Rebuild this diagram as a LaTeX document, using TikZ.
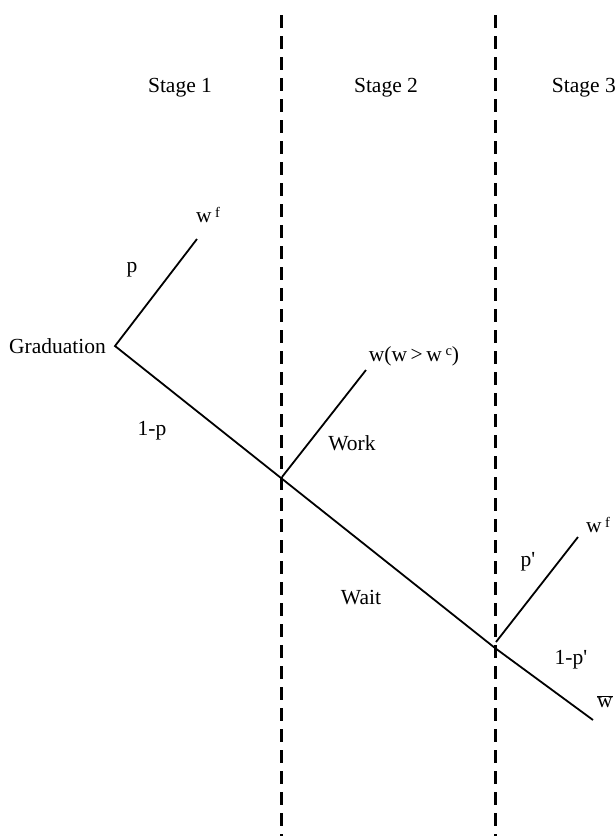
\documentclass[tikz,border=0pt]{standalone}
\usepackage{fontspec}
\setmainfont{Liberation Serif}
\newcommand{\sups}[1]{\raisebox{0.6ex}{\fontsize{14.5}{14.5}\selectfont #1}}
\begin{document}
\begin{tikzpicture}[x=1pt,y=-1pt,
  lbl/.style={inner sep=0pt,font=\fontsize{21.5}{25}\selectfont},
  branch/.style={line width=1.8pt},
  stageline/.style={line width=3pt,dash pattern=on 12.5pt off 8.5pt}]
\useasboundingbox (0,0) rectangle (615,836);
% stage separators
\coordinate (s1t) at (281,15);
\coordinate (s1b) at (281,836);
\coordinate (s2t) at (495,15);
\coordinate (s2b) at (495,836);
\draw[stageline] (s1t) -- (s1b);
\draw[stageline] (s2t) -- (s2b);
% tree points
\coordinate (G) at (115,346);
\coordinate (A) at (281,478);
\coordinate (B) at (495,648);
\coordinate (Bb) at (496,642);
\coordinate (Ab) at (282,477);
\coordinate (P1) at (197,239);
\coordinate (W1) at (366,370);
\coordinate (P2) at (578,537);
\coordinate (E) at (593,720);
\draw[branch] (P1) -- (G) -- (A) -- (B) -- (E);
\draw[branch] (Ab) -- (W1);
\draw[branch] (Bb) -- (P2);
% labels
\node[lbl] (st1) at (180,88) {Stage 1};
\node[lbl] (st2) at (386,88) {Stage 2};
\node[lbl,anchor=east] (st3) at (616,88) {Stage 3};
\node[lbl] (wf1) at (208,215) {w\,\sups{f}};
\node[lbl] (p) at (132,270) {p};
\node[lbl,anchor=east] (grad) at (106,346) {Graduation};
\node[lbl] (wc) at (414,356) {w(w\,>\,w\,\sups{c})};
\node[lbl] (omp) at (152,431) {1-p};
\node[lbl] (work) at (352,443) {Work};
\node[lbl] (pp) at (528,562) {p\textquotesingle};
\node[lbl] (wf2) at (598,525) {w\,\sups{f}};
\node[lbl] (wait) at (361,598) {Wait};
\node[lbl] (ompp) at (571,660) {1-p\textquotesingle};
\node[lbl] (wbar) at (605,702) {$\overline{\mbox{w}}$};
\end{tikzpicture}
\end{document}
